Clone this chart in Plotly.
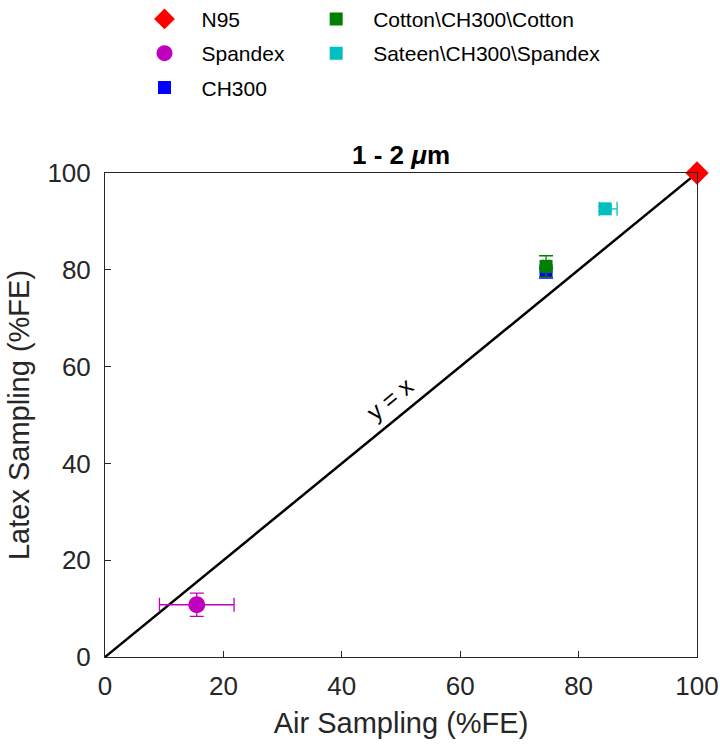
import plotly.graph_objects as go

# Filtration efficiency measured two ways, 1-2 um particles
names = ["N95", "Spandex", "CH300", "Cotton\\CH300\\Cotton", "Sateen\\CH300\\Spandex"]
air_fe = [100.0, 15.5, 74.5, 74.5, 84.5]
air_err_plus = [0.0, 6.3, 0.5, 0.5, 2.0]
air_err_minus = [0.0, 6.3, 0.5, 0.5, 1.0]
latex_fe = [100.0, 10.8, 79.8, 80.7, 92.6]
latex_err_plus = [0.0, 2.4, 0.5, 2.2, 0.5]
latex_err_minus = [0.0, 2.4, 1.5, 2.2, 0.5]
colors = ["#ff0000", "#bf00bf", "#0000ff", "#007f00", "#00bfbf"]
symbols = ["diamond", "circle", "square", "square", "square"]
sizes = [18, 17, 13, 13, 13]
legend_ids = ["legend", "legend", "legend", "legend2", "legend2"]

ticks = [0, 20, 40, 60, 80, 100]
axis_color = "#262626"
font = "Liberation Sans, Arial, sans-serif"

fig = go.Figure()

# identity line
fig.add_trace(go.Scatter(x=[0, 100], y=[0, 100], mode="lines",
                         line=dict(color="black", width=2.5),
                         showlegend=False, hoverinfo="skip"))

for i, n in enumerate(names):
    has_x = air_err_plus[i] > 0
    has_y = latex_err_plus[i] > 0
    fig.add_trace(go.Scatter(
        x=[air_fe[i]], y=[latex_fe[i]], mode="markers", name=n,
        legend=legend_ids[i], legendgroup=f"g{i}",
        marker=dict(color=colors[i], symbol=symbols[i], size=sizes[i],
                    line=dict(width=0)),
        error_x=dict(type="data", symmetric=False, array=[air_err_plus[i]],
                     arrayminus=[air_err_minus[i]], color=colors[i],
                     thickness=1.3, width=7, visible=has_x),
        error_y=dict(type="data", symmetric=False, array=[latex_err_plus[i]],
                     arrayminus=[latex_err_minus[i]], color=colors[i],
                     thickness=1.3, width=7, visible=has_y),
        cliponaxis=False,
    ))

axis_common = dict(range=[0, 100], tickvals=ticks, ticks="inside", ticklen=6,
                   tickcolor=axis_color, showline=True, linecolor=axis_color,
                   linewidth=1, mirror=True, showgrid=False, zeroline=False,
                   tickfont=dict(size=26, color=axis_color, family=font))

legend_common = dict(yref="paper", xref="paper", y=1.36, xanchor="left",
                     yanchor="top", itemwidth=64, tracegroupgap=4,
                     font=dict(size=21, color="#000000", family=font),
                     bgcolor="rgba(0,0,0,0)")

fig.update_layout(
    width=720, height=744,
    margin=dict(l=105, r=23, t=173, b=87, autoexpand=False),
    paper_bgcolor="white", plot_bgcolor="white",
    font=dict(family=font, color=axis_color),
    xaxis=dict(**axis_common, ticklabelstandoff=6,
               title=dict(text="Air Sampling (%FE)", font=dict(size=29, color=axis_color),
                          standoff=12)),
    yaxis=dict(**axis_common, ticklabelstandoff=8,
               title=dict(text="Latex Sampling (%FE)", font=dict(size=29, color=axis_color),
                          standoff=9)),
    legend=dict(x=0.038, **legend_common),
    legend2=dict(x=0.328, **legend_common),
    showlegend=True,
)

fig.add_annotation(x=0.5, y=1.0, xref="paper", yref="paper", yanchor="bottom",
                   yshift=1, showarrow=False,
                   text="<b>1 - 2 <i>μ</i>m</b>",
                   font=dict(size=26, color="#000000", family=font))

fig.add_annotation(x=50.0, y=50.0, xref="x", yref="y", showarrow=False,
                   text="y = x", textangle=-39.3, yshift=16, xshift=-12,
                   font=dict(size=24, color="#000000", family=font))

fig.write_html("out.html")
